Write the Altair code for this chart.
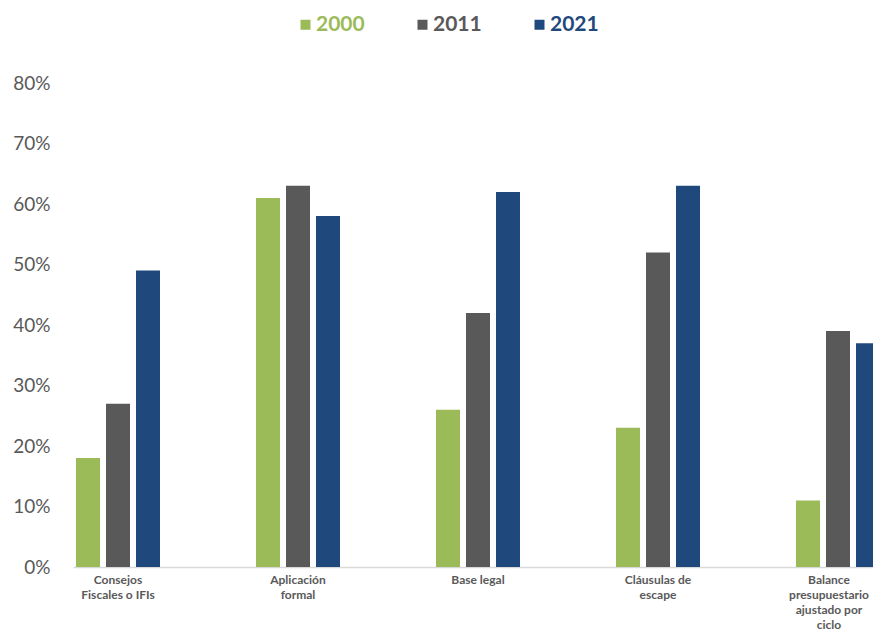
import json
import altair as alt
import pandas as pd

categories = [
    "Consejos Fiscales o IFIs",
    "Aplicación formal",
    "Base legal",
    "Cláusulas de escape",
    "Balance presupuestario ajustado por ciclo",
]
label_lines = [
    ["Consejos", "Fiscales o IFIs"],
    ["Aplicación", "formal"],
    ["Base legal"],
    ["Cláusulas de", "escape"],
    ["Balance", "presupuestario", "ajustado por", "ciclo"],
]
series = ["2000", "2011", "2021"]
colors = ["#9BBB59", "#595959", "#1F497D"]
v2000 = [0.18, 0.61, 0.26, 0.23, 0.11]
v2011 = [0.27, 0.63, 0.42, 0.52, 0.39]
v2021 = [0.49, 0.58, 0.62, 0.63, 0.37]
y_ticks = [0, 0.1, 0.2, 0.3, 0.4, 0.5, 0.6, 0.7, 0.8]

rows = []
for s, vals in zip(series, [v2000, v2011, v2021]):
    for c, v in zip(categories, vals):
        rows.append({"categoria": c, "serie": s, "valor": v})
df = pd.DataFrame(rows)

# multi-line category labels
label_expr = ""
for c, lines in zip(categories, label_lines):
    label_expr += f"datum.label == {json.dumps(c, ensure_ascii=False)} ? {json.dumps(lines, ensure_ascii=False)} : "
label_expr += "datum.label"

# keep the last (edge) label inside the page
last_offset_expr = f"datum.value == {json.dumps(categories[-1], ensure_ascii=False)} ? -9 : 0"

legend_color_expr = ""
for s, col in zip(series, colors):
    legend_color_expr += f"datum.label == '{s}' ? '{col}' : "
legend_color_expr += "'#595959'"

chart = (
    alt.Chart(df)
    .mark_bar()
    .encode(
        x=alt.X(
            "categoria:N",
            sort=categories,
            scale=alt.Scale(range=[1, 811], paddingInner=0.5, paddingOuter=0),
            axis=alt.Axis(
                title=None,
                labelAngle=0,
                labelExpr=label_expr,
                labelOffset={"expr": last_offset_expr},
                labelFont="Lato",
                labelFontSize=12,
                labelFontWeight="bold",
                labelColor="#595959",
                labelPadding=7,
                labelLineHeight=15,
                labelBaseline="top",
                ticks=False,
                domainColor="#D9D9D9",
                domainWidth=1.5,
                grid=False,
            ),
        ),
        xOffset=alt.XOffset(
            "serie:N",
            sort=series,
            scale=alt.Scale(paddingInner=0.2, paddingOuter=0.1),
        ),
        y=alt.Y(
            "valor:Q",
            scale=alt.Scale(domain=[0, 0.8], nice=False),
            axis=alt.Axis(
                title=None,
                values=y_ticks,
                format=".0%",
                labelFont="Lato",
                labelFontSize=19,
                labelColor="#595959",
                labelPadding=22,
                ticks=False,
                domain=False,
                grid=False,
            ),
        ),
        color=alt.Color(
            "serie:N",
            sort=series,
            scale=alt.Scale(domain=series, range=colors),
            legend=alt.Legend(
                title=None,
                orient="none",
                direction="horizontal",
                legendX=223,
                legendY=-69,
                padding=0,
                symbolType="square",
                symbolSize=100,
                symbolStrokeWidth=0,
                labelOffset=0,
                labelFont="Lato",
                labelFontSize=21,
                labelFontWeight="bold",
                labelColor={"expr": legend_color_expr},
                columnPadding=47,
            ),
        ),
    )
    .properties(
        width=801,
        height=484,
        autosize=alt.AutoSizeParams(type="none"),
        padding={"left": 64, "top": 75, "right": 0, "bottom": 66},
    )
    .configure_view(stroke=None, strokeWidth=0)
)

chart.save("out.html", embed_options={"renderer": "svg", "actions": False})
